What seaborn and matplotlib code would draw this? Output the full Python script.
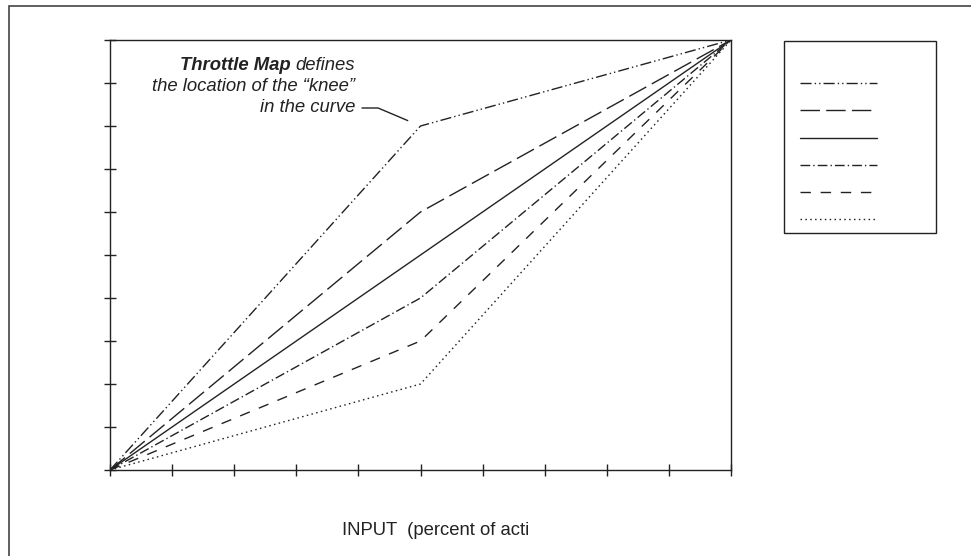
import numpy as np
import pandas as pd
import matplotlib
matplotlib.use("Agg")
import matplotlib.pyplot as plt
from matplotlib.patches import Rectangle
import seaborn as sns

# throttle curves: output vs input, knee placed at 50% input
input_pts = [0, 50, 100]
curve_names = ["map1", "map2", "map3", "map4", "map5", "map6"]
knee_values = [80, 60, 50, 40, 30, 20]
x_ticks = list(range(0, 101, 10))
y_ticks = list(range(0, 101, 10))

rows = []
for name, knee in zip(curve_names, knee_values):
    for xv, yv in zip(input_pts, [0, knee, 100]):
        rows.append({"input": xv, "output": yv, "curve": name})
df = pd.DataFrame(rows)

sns.set_style("white")
plt.rcParams["font.family"] = ["Liberation Sans", "DejaVu Sans"]

ink = "#222222"
dash_styles = {
    "map1": (8, 2.2, 1, 2.2, 1, 2.2),
    "map2": (14, 4.5),
    "map3": "",
    "map4": (7, 2.2, 1, 2.2),
    "map5": (7.5, 7),
    "map6": (1.1, 2.4),
}

fig = plt.figure(figsize=(9.71, 5.56), dpi=100)
ax = fig.add_axes([110 / 971, 1 - 470 / 556, 621 / 971, 430 / 556])

sns.lineplot(data=df, x="input", y="output", style="curve", style_order=curve_names,
             dashes=dash_styles, color=ink, linewidth=1.0, legend=False, ax=ax)

ax.set_xlim(0, 100)
ax.set_ylim(0, 100)
ax.set_xticks(x_ticks)
ax.set_yticks(y_ticks)
ax.set_xticklabels([])
ax.set_yticklabels([])
ax.set_xlabel("")
ax.set_ylabel("")
ax.tick_params(axis="both", direction="inout", length=9, width=1.0, color=ink,
               bottom=True, left=True, top=False, right=False)
for sp in ax.spines.values():
    sp.set_visible(True)
    sp.set_color(ink)
    sp.set_linewidth(1.0)

# annotation text (right aligned block)
txt_kw = dict(fontsize=13.3, style="italic", color=ink, ha="right", va="center")
t1 = fig.text(355 / 971, 1 - 66 / 556, "defines", **txt_kw)
fig.text(355 / 971, 1 - 86.5 / 556, "the location of the \u201cknee\u201d", **txt_kw)
fig.text(355 / 971, 1 - 107 / 556, "in the curve", **txt_kw)
ax.annotate("Throttle Map ", xy=(0, 0), xycoords=t1, ha="right", va="bottom",
            fontsize=13.3, style="italic", weight="bold", color=ink)

# leader line to the knee
ax.annotate("", xy=(input_pts[1], knee_values[0]), xycoords="data",
            xytext=(362, 556 - 108), textcoords="figure pixels",
            arrowprops=dict(arrowstyle="-", color=ink, lw=1.0, shrinkA=0, shrinkB=10,
                            connectionstyle="angle,angleA=0,angleB=-23,rad=0"))

# x label
fig.text(342 / 971, 21 / 556, "INPUT  (percent of acti", fontsize=13.3, color=ink,
         ha="left", va="baseline")

# legend box with line samples only
fig.add_artist(Rectangle((784 / 971, 1 - 233 / 556), 152 / 971, 192 / 556,
                         transform=fig.transFigure, fill=False, edgecolor=ink, lw=1.0))
fig.legend(ax.get_lines()[:6], [" "] * 6, loc="upper left",
           bbox_to_anchor=(800 / 971, 1 - 77 / 556), frameon=False, fontsize=10,
           handlelength=5.55, handletextpad=0, labelspacing=0.95, borderpad=0,
           borderaxespad=0)

# page border (left and top)
fig.add_artist(Rectangle((9 / 971, -0.1), 2, 1.1 - 6 / 556, transform=fig.transFigure,
                         fill=False, edgecolor="#444444", lw=1.2))

fig.savefig("out.png", dpi=100)
